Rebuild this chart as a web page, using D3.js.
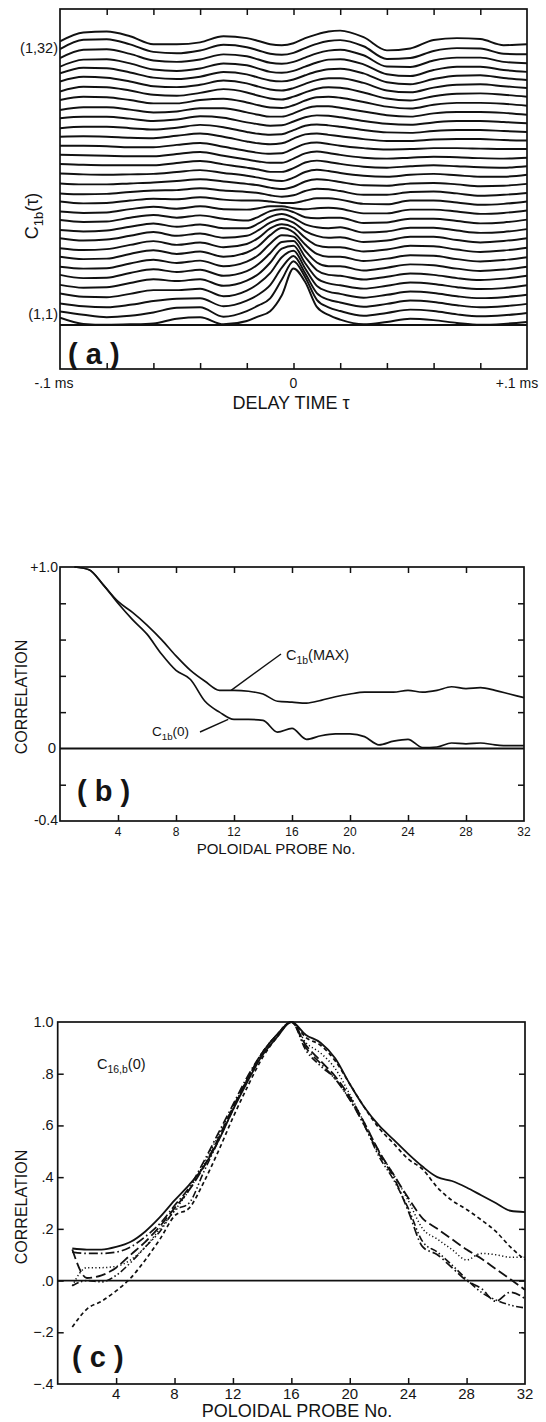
<!DOCTYPE html>
<html><head><meta charset="utf-8">
<script src="https://cdn.jsdelivr.net/npm/d3@7"></script>
<style>
html,body{margin:0;padding:0;background:#fff;}
svg{display:block;}
text{font-family:"Liberation Sans",Arial,sans-serif;fill:#141414;}
</style></head><body>
<svg id="fig" width="546" height="1422"></svg>
<script>
// ---------- Panel (a): C_1b(tau), one trace per poloidal probe b = 1..32 ----------
const tauMs = [-0.1,-0.09,-0.08,-0.07,-0.06,-0.05,-0.04,-0.03,-0.02,-0.015,-0.01,-0.005,0,0.005,0.01,0.015,0.02,0.03,0.04,0.05,0.06,0.07,0.08,0.09,0.1];

const b01 = [-0.08,-0.21,-0.23,-0.22,-0.20,-0.10,-0.07,-0.22,-0.15,-0.05,0.06,0.40,0.97,0.68,0.15,-0.02,-0.12,-0.22,-0.17,-0.10,-0.13,-0.19,-0.23,-0.21,-0.17];
const b02 = [-0.13,-0.20,-0.25,-0.22,-0.15,-0.05,-0.04,-0.24,-0.12,0.00,0.15,0.55,0.94,0.60,0.12,-0.04,-0.12,-0.22,-0.16,-0.09,-0.12,-0.19,-0.23,-0.21,-0.16];
const b03 = [-0.14,-0.20,-0.22,-0.17,-0.09,-0.04,-0.03,-0.20,-0.08,0.05,0.25,0.62,0.87,0.50,0.08,-0.06,-0.12,-0.21,-0.15,-0.08,-0.11,-0.18,-0.22,-0.20,-0.15];
const b04 = [-0.11,-0.18,-0.19,-0.12,-0.04,-0.04,-0.01,-0.17,-0.05,0.10,0.32,0.66,0.80,0.42,0.05,-0.07,-0.12,-0.20,-0.14,-0.07,-0.10,-0.17,-0.21,-0.19,-0.14];
const b05 = [-0.11,-0.17,-0.16,-0.07,0.01,-0.03,0.01,-0.13,-0.02,0.12,0.36,0.66,0.72,0.35,0.03,-0.08,-0.12,-0.19,-0.13,-0.06,-0.09,-0.16,-0.20,-0.18,-0.12];
const b06 = [-0.08,-0.15,-0.14,-0.04,0.04,-0.02,0.03,-0.10,0.00,0.15,0.38,0.62,0.64,0.30,0.02,-0.08,-0.10,-0.18,-0.12,-0.05,-0.08,-0.15,-0.19,-0.16,-0.10];
const b07 = [-0.09,-0.13,-0.12,-0.02,0.06,-0.01,0.04,-0.08,0.02,0.16,0.40,0.58,0.55,0.25,0.00,-0.08,-0.08,-0.17,-0.11,-0.04,-0.06,-0.13,-0.18,-0.15,-0.09];
const b08 = [-0.06,-0.11,-0.10,0.00,0.08,0.00,0.05,-0.06,0.03,0.17,0.40,0.55,0.46,0.20,0.00,-0.06,-0.06,-0.15,-0.10,-0.03,-0.04,-0.11,-0.16,-0.13,-0.07];
const b09 = [-0.06,-0.10,-0.08,0.01,0.09,0.01,0.06,-0.04,0.03,0.16,0.36,0.45,0.38,0.16,0.00,-0.04,-0.04,-0.13,-0.09,-0.01,-0.02,-0.09,-0.14,-0.11,-0.05];
const b10 = [-0.03,-0.08,-0.06,0.02,0.10,0.02,0.07,-0.02,0.02,0.14,0.30,0.38,0.30,0.12,0.02,-0.02,-0.01,-0.11,-0.08,0.00,0.00,-0.07,-0.12,-0.09,-0.03];
const b11 = [-0.04,-0.07,-0.05,0.03,0.10,0.03,0.08,0.00,0.00,0.10,0.24,0.30,0.22,0.08,0.02,0.00,0.02,-0.09,-0.07,0.01,0.01,-0.05,-0.10,-0.08,-0.02];
const b12 = [-0.01,-0.05,-0.04,0.04,0.10,0.04,0.09,0.02,-0.02,0.06,0.18,0.22,0.16,0.05,0.03,0.04,0.04,-0.07,-0.06,0.02,0.02,-0.03,-0.08,-0.06,0.00];
const b13 = [-0.01,-0.04,-0.03,0.04,0.09,0.05,0.10,0.04,0.03,0.06,0.10,0.10,0.06,0.04,0.06,0.07,0.05,-0.05,-0.05,0.03,0.03,-0.01,-0.06,-0.04,0.01];
const b14 = [0.02,-0.02,-0.01,0.04,0.08,0.07,0.11,0.06,0.04,0.04,0.02,-0.01,-0.01,0.04,0.09,0.09,0.06,-0.03,-0.04,0.04,0.04,0.00,-0.05,-0.03,0.02];
const b15 = [0.01,-0.01,0.00,0.04,0.07,0.08,0.12,0.07,0.04,0.02,-0.03,-0.06,-0.03,0.06,0.11,0.10,0.06,-0.02,-0.02,0.04,0.05,0.01,-0.04,-0.02,0.02];
const b16 = [0.04,0.02,0.02,0.04,0.06,0.09,0.13,0.08,0.03,0.00,-0.05,-0.08,-0.03,0.08,0.13,0.11,0.07,0.00,-0.01,0.04,0.05,0.02,-0.02,-0.01,0.03];
const b17 = [0.07,0.05,0.04,0.05,0.06,0.10,0.14,0.08,0.02,-0.02,-0.07,-0.09,-0.02,0.10,0.15,0.12,0.08,0.02,0.00,0.04,0.06,0.03,0.00,0.00,0.04];
const b18 = [0.09,0.07,0.06,0.06,0.06,0.11,0.15,0.08,0.01,-0.03,-0.08,-0.08,0.00,0.12,0.16,0.13,0.09,0.03,0.01,0.04,0.06,0.04,0.02,0.01,0.04];
const b19 = [0.10,0.09,0.08,0.07,0.07,0.12,0.16,0.08,0.00,-0.04,-0.07,-0.07,0.02,0.13,0.17,0.14,0.10,0.04,0.02,0.04,0.06,0.05,0.03,0.02,0.04];
const b20 = [0.11,0.11,0.10,0.08,0.08,0.13,0.17,0.09,0.00,-0.04,-0.06,-0.05,0.05,0.15,0.18,0.15,0.11,0.06,0.03,0.04,0.06,0.06,0.05,0.04,0.04];
const b21 = [0.12,0.13,0.12,0.10,0.09,0.14,0.19,0.12,0.02,-0.02,-0.04,-0.02,0.08,0.17,0.19,0.16,0.13,0.07,0.03,0.03,0.06,0.07,0.07,0.05,0.04];
const b22 = [0.12,0.15,0.15,0.12,0.09,0.13,0.19,0.14,0.04,0.00,-0.02,-0.01,0.08,0.17,0.20,0.18,0.15,0.08,0.03,0.02,0.06,0.08,0.08,0.06,0.04];
const b23 = [0.15,0.18,0.18,0.14,0.09,0.12,0.19,0.16,0.06,0.02,-0.01,0.00,0.08,0.17,0.21,0.20,0.17,0.09,0.03,0.01,0.06,0.09,0.09,0.07,0.04];
const b24 = [0.14,0.20,0.20,0.15,0.09,0.11,0.18,0.18,0.09,0.04,0.00,0.00,0.07,0.17,0.22,0.22,0.19,0.11,0.03,0.00,0.07,0.10,0.10,0.08,0.04];
const b25 = [0.17,0.24,0.23,0.17,0.10,0.10,0.17,0.20,0.12,0.06,0.01,0.00,0.06,0.16,0.23,0.24,0.22,0.13,0.03,-0.01,0.07,0.11,0.11,0.09,0.05];
const b26 = [0.17,0.27,0.26,0.19,0.10,0.08,0.14,0.22,0.15,0.08,0.02,0.00,0.06,0.15,0.23,0.26,0.25,0.15,0.02,-0.02,0.07,0.12,0.13,0.10,0.06];
const b27 = [0.20,0.30,0.28,0.20,0.10,0.08,0.13,0.22,0.16,0.09,0.03,0.01,0.06,0.15,0.23,0.27,0.27,0.17,0.01,-0.03,0.07,0.13,0.14,0.10,0.06];
const b28 = [0.19,0.31,0.30,0.21,0.10,0.07,0.12,0.22,0.17,0.10,0.04,0.02,0.06,0.15,0.23,0.28,0.29,0.19,0.00,-0.04,0.07,0.14,0.15,0.09,0.05];
const b29 = [0.15,0.30,0.31,0.22,0.09,0.06,0.11,0.22,0.18,0.11,0.04,0.02,0.06,0.15,0.24,0.30,0.31,0.20,-0.01,-0.05,0.08,0.15,0.15,0.08,0.04];
const b30 = [0.15,0.33,0.34,0.24,0.10,0.07,0.12,0.23,0.19,0.12,0.05,0.03,0.07,0.16,0.25,0.31,0.33,0.21,-0.03,-0.04,0.10,0.16,0.16,0.07,0.04];
const b31 = [0.16,0.36,0.37,0.26,0.10,0.07,0.13,0.25,0.20,0.13,0.06,0.04,0.08,0.18,0.27,0.33,0.35,0.22,-0.05,-0.03,0.12,0.18,0.17,0.06,0.05];
const b32 = [0.14,0.33,0.35,0.25,0.08,0.08,0.12,0.25,0.21,0.15,0.08,0.06,0.10,0.21,0.29,0.35,0.37,0.23,-0.05,-0.01,0.17,0.21,0.19,0.06,0.08];
const traceSet = [b01,b02,b03,b04,b05,b06,b07,b08,b09,b10,b11,b12,b13,b14,b15,b16,b17,b18,b19,b20,b21,b22,b23,b24,b25,b26,b27,b28,b29,b30,b31,b32];

const tauTicks = [-0.08,-0.06,-0.04,-0.02,0,0.02,0.04,0.06,0.08];
const tauLabelValues = [-0.1,0,0.1];
const tauLabelText = ["-.1 ms","0","+.1 ms"];

// ---------- Panel (b): C_1b(0) and C_1b(MAX) against probe number ----------
const probeNo = [1,2,3,4,5,6,7,8,9,10,11,12,13,14,15,16,17,18,19,20,21,22,23,24,25,26,27,28,29,30,31,32];
const c1bMax  = [1.0,0.985,0.9,0.81,0.75,0.68,0.6,0.51,0.43,0.37,0.32,0.32,0.315,0.3,0.26,0.255,0.25,0.265,0.285,0.3,0.31,0.31,0.31,0.32,0.31,0.32,0.34,0.33,0.335,0.32,0.3,0.28];
const c1bZero = [1.0,0.985,0.9,0.8,0.71,0.63,0.52,0.43,0.38,0.26,0.2,0.16,0.16,0.155,0.09,0.11,0.05,0.07,0.08,0.08,0.065,0.02,0.04,0.05,0.005,0.008,0.03,0.025,0.03,0.02,0.015,0.015];
const probeTicks = [4,8,12,16,20,24,28];
const probeLabels = [4,8,12,16,20,24,28,32];
const corrTicksB = [0.8,0.6,0.4,0.2,-0.2];

// ---------- Panel (c): C_16,b(0) for several cases ----------
const c16Solid      = [0.124,0.12,0.12,0.13,0.15,0.19,0.245,0.31,0.37,0.44,0.54,0.66,0.77,0.87,0.94,1.0,0.95,0.92,0.86,0.76,0.67,0.6,0.545,0.49,0.44,0.40,0.385,0.36,0.33,0.30,0.27,0.265];
const c16ShortDash  = [-0.18,-0.11,-0.08,-0.04,0.01,0.08,0.16,0.25,0.28,0.38,0.5,0.63,0.75,0.86,0.94,1.0,0.94,0.91,0.85,0.76,0.67,0.59,0.53,0.47,0.43,0.36,0.31,0.275,0.235,0.19,0.13,0.08];
const c16LongDash   = [0.12,0.01,0.02,0.05,0.1,0.15,0.21,0.28,0.35,0.44,0.55,0.67,0.78,0.88,0.95,1.0,0.91,0.85,0.79,0.71,0.61,0.5,0.41,0.32,0.24,0.2,0.16,0.12,0.085,0.045,0.005,-0.036];
const c16Dotted     = [-0.02,0.05,0.05,0.055,0.08,0.13,0.2,0.27,0.35,0.45,0.56,0.67,0.78,0.88,0.95,1.0,0.92,0.88,0.82,0.72,0.61,0.5,0.41,0.31,0.2,0.16,0.12,0.08,0.105,0.1,0.09,0.09];
const c16DashDot    = [0.11,0.105,0.105,0.11,0.13,0.17,0.22,0.29,0.36,0.46,0.57,0.68,0.79,0.88,0.95,1.0,0.9,0.84,0.78,0.7,0.6,0.49,0.4,0.27,0.13,0.1,0.05,0.0,-0.03,-0.08,-0.045,-0.07];
const c16DashDotDot = [-0.02,0.0,-0.005,0.02,0.07,0.13,0.19,0.27,0.3,0.42,0.54,0.66,0.78,0.88,0.95,1.0,0.89,0.83,0.78,0.7,0.6,0.48,0.39,0.28,0.15,0.11,0.06,0.005,-0.045,-0.075,-0.095,-0.106];
const corrTicksC = [0.8,0.6,0.4,0.2,0,-0.2];
const corrLabelsC = [1.0,0.8,0.6,0.4,0.2,0,-0.2,-0.4];

// ---------- drawing ----------
const ink = "#111";
const svg = d3.select("#fig");

function frame(x0, y0, x1, y1) {
  svg.append("rect").attr("x", x0).attr("y", y0).attr("width", x1 - x0).attr("height", y1 - y0)
    .attr("fill", "none").attr("stroke", ink).attr("stroke-width", 1.7);
}
function tickAxis(axis, tx, ty) {
  const g = svg.append("g").attr("transform", `translate(${tx},${ty})`).call(axis);
  g.select(".domain").remove();
  g.selectAll(".tick line").attr("stroke", ink).attr("stroke-width", 1.5);
  g.selectAll(".tick text").remove();
  return g;
}
function subLabel(x, y, size, main, sub, tail, anchor) {
  const t = svg.append("text").attr("x", x).attr("y", y).attr("font-size", size)
    .attr("text-anchor", anchor || "start");
  t.append("tspan").text(main);
  t.append("tspan").attr("font-size", size * 0.72).attr("dy", size * 0.28).text(sub);
  t.append("tspan").attr("dy", -size * 0.28).text(tail);
  return t;
}

// Panel (a)
const aL = 60, aR = 527, aTop = 9, aBase = 325, aBot = 369;
const ax = d3.scaleLinear().domain([-0.1, 0.1]).range([aL, aR]);
const aZero = d3.scaleLinear().domain([1, 32]).range([314, 48]);
const aAmp = d3.scaleLinear().domain([0, 1]).range([0, 47]);

svg.append("clipPath").attr("id", "clipA").append("rect")
  .attr("x", aL).attr("y", aTop).attr("width", aR - aL).attr("height", aBase - aTop);

const gTraces = svg.append("g").attr("clip-path", "url(#clipA)");
traceSet.forEach((vals, i) => {
  const b = i + 1;
  const line = d3.line()
    .x((d, j) => ax(tauMs[j]))
    .y(d => aZero(b) - aAmp(d))
    .curve(d3.curveMonotoneX);
  gTraces.append("path").attr("d", line(vals))
    .attr("fill", "none").attr("stroke", ink).attr("stroke-width", 1.95).attr("stroke-linejoin", "round");
});

frame(aL, aTop, aR, aBot);
svg.append("line").attr("x1", aL).attr("x2", aR).attr("y1", aBase).attr("y2", aBase)
  .attr("stroke", ink).attr("stroke-width", 2);
tickAxis(d3.axisBottom(ax).tickValues(tauTicks).tickSize(6), 0, aTop);
tickAxis(d3.axisTop(ax).tickValues(tauTicks).tickSize(6), 0, aBot);

tauLabelValues.forEach((v, i) => {
  const shift = v < 0 ? -6 : (v > 0 ? -10 : 0);
  svg.append("text").attr("x", ax(v) + shift).attr("y", aBot + 19).attr("font-size", 14)
    .attr("text-anchor", "middle").text(tauLabelText[i]);
});
svg.append("text").attr("x", 291).attr("y", aBot + 40).attr("font-size", 18)
  .attr("text-anchor", "middle").text("DELAY TIME τ");
svg.append("text").attr("x", aL - 2).attr("y", aZero(32) + 5).attr("font-size", 14.5)
  .attr("text-anchor", "end").text("(1,32)");
svg.append("text").attr("x", aL - 2).attr("y", aZero(1) + 5).attr("font-size", 14.5)
  .attr("text-anchor", "end").text("(1,1)");
subLabel(0, 0, 18, "C", "1b", "(τ)", "middle").attr("transform", "translate(38,216) rotate(-90)");
svg.append("text").attr("x", 68).attr("y", 364).attr("font-size", 29).attr("font-weight", "bold")
  .text("( a )");

// Panel (b)
const bL = 60, bR = 524, bTop = 567, bBot = 821;
const bx = d3.scaleLinear().domain([0, 32]).range([bL, bR]);
const by = d3.scaleLinear().domain([-0.4, 1.0]).range([bBot, bTop]);

frame(bL, bTop, bR, bBot);
svg.append("line").attr("x1", bL).attr("x2", bR).attr("y1", by(0)).attr("y2", by(0))
  .attr("stroke", ink).attr("stroke-width", 2);
tickAxis(d3.axisBottom(bx).tickValues(probeTicks).tickSize(6), 0, bTop);
tickAxis(d3.axisTop(bx).tickValues(probeTicks).tickSize(6), 0, bBot);
tickAxis(d3.axisRight(by).tickValues(corrTicksB).tickSize(6), bL, 0);
tickAxis(d3.axisLeft(by).tickValues(corrTicksB).tickSize(6), bR, 0);

const bLine = d3.line().x((d, i) => bx(probeNo[i])).y(d => by(d)).curve(d3.curveMonotoneX);
[c1bMax, c1bZero].forEach(series => {
  svg.append("path").attr("d", bLine(series)).attr("fill", "none")
    .attr("stroke", ink).attr("stroke-width", 1.7).attr("stroke-linejoin", "round");
});

svg.append("text").attr("x", bL - 2).attr("y", by(1.0) + 5).attr("font-size", 14)
  .attr("text-anchor", "end").text("+1.0");
svg.append("text").attr("x", bL - 4).attr("y", by(0) + 5).attr("font-size", 15)
  .attr("text-anchor", "end").text("0");
svg.append("text").attr("x", bL - 2).attr("y", by(-0.4) + 4).attr("font-size", 14)
  .attr("text-anchor", "end").text("-0.4");
probeLabels.forEach(p => {
  svg.append("text").attr("x", bx(p)).attr("y", bBot + 15).attr("font-size", 12)
    .attr("text-anchor", "middle").text(p);
});
svg.append("text").attr("x", 276).attr("y", bBot + 33).attr("font-size", 15)
  .attr("text-anchor", "middle").text("POLOIDAL PROBE No.");
svg.append("text").attr("font-size", 16).attr("text-anchor", "middle")
  .attr("transform", "translate(27,697) rotate(-90)").text("CORRELATION");
svg.append("text").attr("x", 77).attr("y", 801).attr("font-size", 29).attr("font-weight", "bold")
  .text("( b )");

// leaders and series names
svg.append("line").attr("x1", 281).attr("y1", 654).attr("x2", bx(11.8)).attr("y2", by(c1bMax[11]))
  .attr("stroke", ink).attr("stroke-width", 1.4);
subLabel(286, 660, 14.5, "C", "1b", "(MAX)");
svg.append("line").attr("x1", 200).attr("y1", 732).attr("x2", bx(11.6)).attr("y2", by(c1bZero[11]))
  .attr("stroke", ink).attr("stroke-width", 1.4);
subLabel(152, 736, 13.5, "C", "1b", "(0)");

// Panel (c)
const cL = 57.7, cR = 525, cTop = 1022, cBot = 1384;
const cx = d3.scaleLinear().domain([0, 32]).range([cL, cR]);
const cy = d3.scaleLinear().domain([-0.4, 1.0]).range([cBot, cTop]);

frame(cL, cTop, cR, cBot);
svg.append("line").attr("x1", cL).attr("x2", cR).attr("y1", cy(0)).attr("y2", cy(0))
  .attr("stroke", ink).attr("stroke-width", 1.8);
tickAxis(d3.axisTop(cx).tickValues(probeTicks).tickSize(6), 0, cBot);
tickAxis(d3.axisRight(cy).tickValues(corrTicksC).tickSize(6), cL, 0);
tickAxis(d3.axisLeft(cy).tickValues(corrTicksC).tickSize(6), cR, 0);

const cLine = d3.line().x((d, i) => cx(probeNo[i])).y(d => cy(d)).curve(d3.curveMonotoneX);
const cSeries = [
  { vals: c16Solid, dash: null, w: 1.8 },
  { vals: c16ShortDash, dash: "4,3", w: 1.7 },
  { vals: c16LongDash, dash: "10,4", w: 1.8 },
  { vals: c16Dotted, dash: "1.2,2.4", w: 1.5 },
  { vals: c16DashDot, dash: "9,3,1.6,3", w: 1.7 },
  { vals: c16DashDotDot, dash: "7,2.5,1.5,2.5,1.5,2.5", w: 1.6 }
];
cSeries.forEach(s => {
  svg.append("path").attr("d", cLine(s.vals)).attr("fill", "none")
    .attr("stroke", ink).attr("stroke-width", s.w).attr("stroke-dasharray", s.dash)
    .attr("stroke-linejoin", "round");
});

const fmtC = v => v === 1 ? "1.0" : (v === 0 ? ".0" : d3.format(".1f")(v).replace("0.", "."));
corrLabelsC.forEach(v => {
  svg.append("text").attr("x", cL - 4).attr("y", cy(v) + 5).attr("font-size", 14.5)
    .attr("text-anchor", "end").text(fmtC(v));
});
probeLabels.forEach(p => {
  svg.append("text").attr("x", cx(p)).attr("y", cBot + 15).attr("font-size", 15)
    .attr("text-anchor", "middle").text(p);
});
svg.append("text").attr("x", 297).attr("y", cBot + 33).attr("font-size", 18)
  .attr("text-anchor", "middle").text("POLOIDAL PROBE No.");
svg.append("text").attr("font-size", 16).attr("text-anchor", "middle")
  .attr("transform", "translate(27,1207) rotate(-90)").text("CORRELATION");
svg.append("text").attr("x", 72).attr("y", 1367).attr("font-size", 29).attr("font-weight", "bold")
  .text("( c )");
subLabel(97, 1069, 14.5, "C", "16,b", "(0)");
</script>
</body></html>
